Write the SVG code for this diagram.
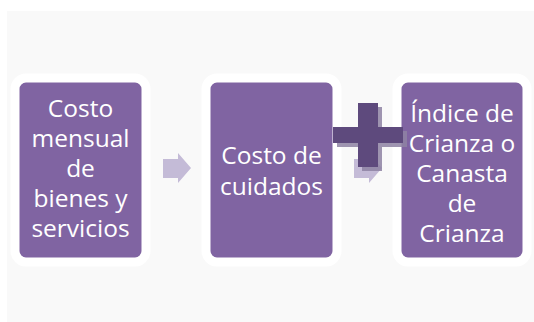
<svg xmlns="http://www.w3.org/2000/svg" width="534" height="322" viewBox="0 0 534 322">
<style>
.box{fill:#8064a2;stroke:#ffffff;stroke-width:9}
.lbl{fill:#ffffff;font-family:"Open Sans","Liberation Sans",sans-serif;font-size:24.5px;text-anchor:middle}
.arr{fill:#c4bbd7}
.plus{fill:#5e4a7d}
.plsh{fill:#8e82a3;opacity:0.85}
</style>
<rect x="7" y="11" width="527" height="311" fill="#f9f9f9"/>
<g id="connectors">
<polygon class="arr" points="163,159 178,159 178,153 191,168 178,183 178,178 163,178"/>
<polygon class="arr" points="354,159 369,159 369,153 382,168 369,183 369,178 354,178"/>
</g>
<g id="node1">
<rect class="box" x="15" y="78" width="131" height="184" rx="11"/>
<text class="lbl"><tspan x="80.5" y="117">Costo</tspan><tspan x="80.5" y="147">mensual</tspan><tspan x="80.5" y="177">de</tspan><tspan x="80.5" y="207">bienes y</tspan><tspan x="80.5" y="237">servicios</tspan></text>
</g>
<g id="node2">
<rect class="box" x="206" y="78" width="131" height="184" rx="11"/>
<text class="lbl"><tspan x="271.5" y="164">Costo de</tspan><tspan x="271.5" y="195">cuidados</tspan></text>
</g>
<g id="node3">
<rect class="box" x="397" y="78" width="130" height="184" rx="11"/>
<text class="lbl"><tspan x="462" y="122">Índice de</tspan><tspan x="462" y="152">Crianza o</tspan><tspan x="462" y="182">Canasta</tspan><tspan x="462" y="212">de</tspan><tspan x="462" y="242">Crianza</tspan></text>
</g>
<g id="plus">
<path class="plsh" d="M362,107h20v24h25v16h-25v24h-20v-24h-25v-16h25z"/>
<path class="plus" d="M358,103h20v24h25v16h-25v24h-20v-24h-25v-16h25z"/>
</g>
</svg>
